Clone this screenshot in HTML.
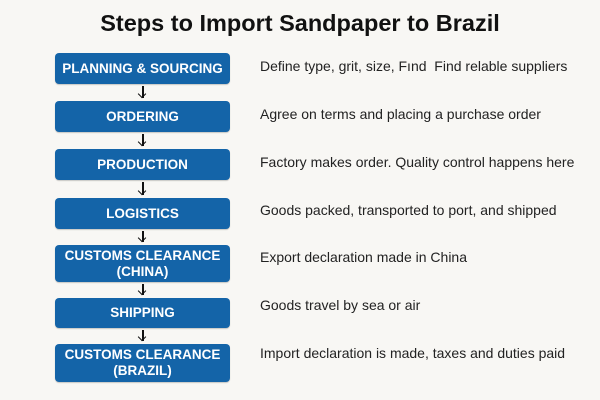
<!DOCTYPE html>
<html><head><style>
body{margin:0;width:600px;height:400px;background:#f8f7f4;position:relative;overflow:hidden;font-family:"Liberation Sans",sans-serif}
.t{position:absolute;top:10px;left:0;width:600px;text-align:center;font-size:23.5px;font-weight:bold;color:#111}
.b{position:absolute;left:55px;width:175px;background:#1464a8;border-radius:4px;color:#fff;font-weight:bold;font-size:13.5px;display:flex;align-items:center;justify-content:center;text-align:center;line-height:16px;box-shadow:0 1px 1px rgba(0,0,0,.2)}
.d{position:absolute;left:260px;font-size:14px;color:#222;white-space:nowrap}
.a{position:absolute;left:142px;width:1.5px;background:#111}
.h{position:absolute;left:138.5px;width:5px;height:5px;border-right:1.5px solid #111;border-bottom:1.5px solid #111;transform:rotate(45deg)}
</style></head><body>
<div class="t">Steps to Import Sandpaper to Brazil</div>
<div class="b" style="top:53px;height:31px">PLANNING &amp; SOURCING</div>
<div class="b" style="top:101px;height:31px">ORDERING</div>
<div class="b" style="top:149px;height:31px">PRODUCTION</div>
<div class="b" style="top:198px;height:31px">LOGISTICS</div>
<div class="b" style="top:245px;height:37px">CUSTOMS CLEARANCE<br>(CHINA)</div>
<div class="b" style="top:298px;height:30px">SHIPPING</div>
<div class="b" style="top:344px;height:38px">CUSTOMS CLEARANCE<br>(BRAZIL)</div>
<div class="a" style="top:86px;height:12px"></div><div class="h" style="top:91px"></div>
<div class="a" style="top:134px;height:12px"></div><div class="h" style="top:139px"></div>
<div class="a" style="top:182px;height:13px"></div><div class="h" style="top:188px"></div>
<div class="a" style="top:231px;height:11px"></div><div class="h" style="top:235px"></div>
<div class="a" style="top:284px;height:11px"></div><div class="h" style="top:288px"></div>
<div class="a" style="top:330px;height:11px"></div><div class="h" style="top:334px"></div>
<div class="d" style="top:58px">Define type, grit, size, Fınd &nbsp;Find relable suppliers</div>
<div class="d" style="top:106px">Agree on terms and placing a purchase order</div>
<div class="d" style="top:154px">Factory makes order. Quality control happens here</div>
<div class="d" style="top:202px">Goods packed, transported to port, and shipped</div>
<div class="d" style="top:249px">Export declaration made in China</div>
<div class="d" style="top:297px">Goods travel by sea or air</div>
<div class="d" style="top:345px">Import declaration is made, taxes and duties paid</div>
</body></html>
